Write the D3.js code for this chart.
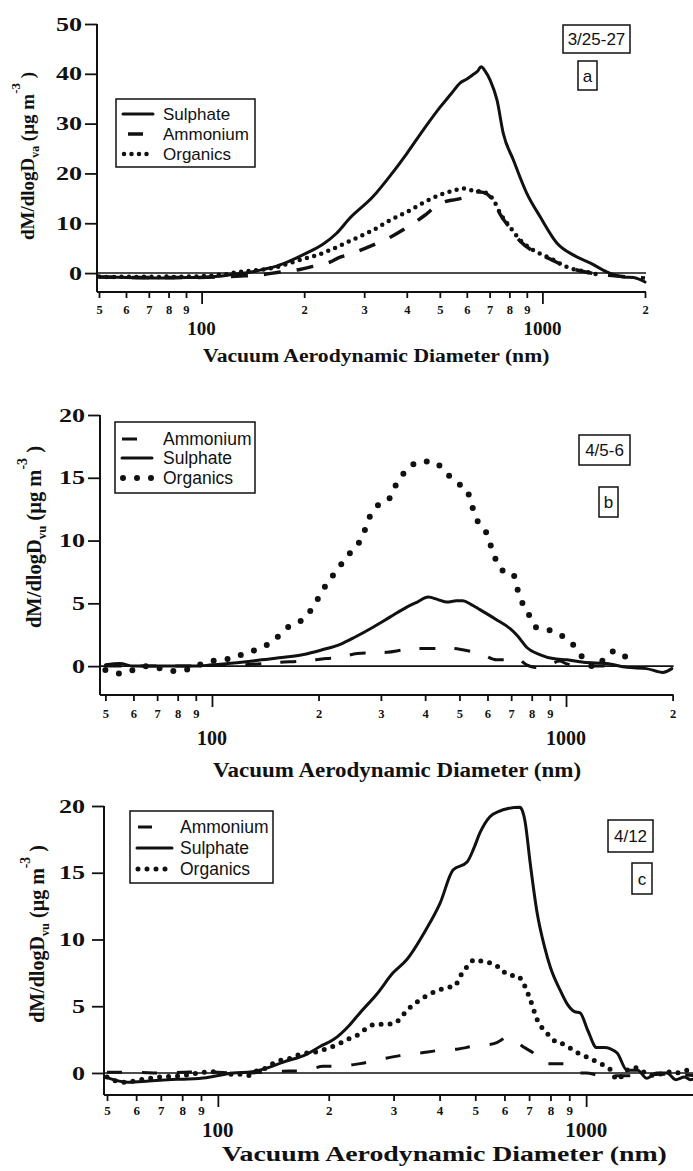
<!DOCTYPE html>
<html>
<head>
<meta charset="utf-8">
<script src="https://cdn.jsdelivr.net/npm/d3@7"></script>
<style>
  body { margin: 0; background: #fff; }
  svg { display: block; }
</style>
</head>
<body>
<svg id="fig" width="693" height="1171"></svg>
<script>
// ---- shared axis content ----
const xTickValues = [50, 60, 70, 80, 90, 100, 200, 300, 400, 500, 600, 700, 800, 900, 1000, 2000];
const xTickLabels = ["5", "6", "7", "8", "9", "", "2", "3", "4", "5", "6", "7", "8", "9", "", "2"];
const xMajorValues = [100, 1000];
const xTitle = "Vacuum Aerodynamic Diameter (nm)";
const yTicksA = [0, 10, 20, 30, 40, 50];
const yTicksBC = [0, 5, 10, 15, 20];

// ---- panel a: 3/25-27 (diameter nm, dM/dlogDva) ----
const aSulphateD = [50, 60, 70, 80, 90, 100, 110, 120, 130, 140, 151, 166, 181, 203, 227, 249, 272, 318, 360, 401, 450, 501, 540, 574, 602, 625, 645, 661, 680, 703, 736, 768, 822, 900, 985, 1104, 1234, 1384, 1550, 1733, 1850, 2000];
const aSulphateV = [-0.8, -0.9, -1.0, -1.0, -0.9, -0.9, -0.7, -0.4, -0.1, 0.2, 0.7, 1.4, 2.4, 4.0, 5.8, 8.0, 11.0, 15.3, 19.8, 24.1, 29.0, 33.3, 36.0, 38.2, 39.0, 39.8, 40.5, 41.4, 40.5, 38.7, 34.7, 28.0, 22.7, 16.0, 11.3, 6.0, 3.6, 2.0, 0.2, -0.8, -0.9, -1.8];
const aAmmoniumD = [50, 70, 90, 110, 130, 151, 170, 190, 208, 238, 255, 267, 318, 360, 401, 450, 501, 560, 602, 645, 670, 718, 752, 804, 861, 940, 1055, 1181, 1300, 1450, 1600, 1800, 2000];
const aAmmoniumV = [-0.8, -0.9, -0.9, -0.8, -0.6, -0.3, 0.2, 0.6, 1.2, 2.2, 3.2, 3.6, 5.6, 7.3, 9.2, 11.5, 14.0, 14.8, 15.3, 16.3, 16.2, 14.5, 11.8, 9.0, 6.4, 4.4, 2.8, 1.2, 0.4, -0.2, -0.5, -0.8, -1.0];
const aOrganicsD = [50, 55, 60, 65, 70, 75, 80, 85, 90, 95, 100, 105, 110, 116, 123, 136, 151, 166, 181, 198, 218, 238, 260, 290, 318, 355, 401, 450, 501, 545, 585, 620, 670, 718, 752, 804, 861, 940, 1055, 1181, 1353, 1450];
const aOrganicsV = [-0.7, -0.8, -0.7, -0.8, -0.7, -0.8, -0.7, -0.8, -0.7, -0.7, -0.6, -0.6, -0.4, -0.3, 0.0, 0.4, 0.7, 1.2, 2.0, 2.8, 3.6, 4.6, 5.8, 7.3, 8.6, 10.5, 12.3, 14.2, 15.7, 16.5, 17.0, 16.6, 16.3, 14.7, 12.0, 9.2, 6.6, 4.6, 3.0, 1.2, 0.2, -0.3];

// ---- panel b: 4/5-6 ----
const bAmmoniumD = [50, 60, 70, 80, 90, 100, 120, 140, 154, 180, 210, 230, 257, 312, 350, 387, 440, 480, 511, 582, 636, 690, 726, 774, 820, 880, 960, 1000, 1100, 1300];
const bAmmoniumV = [0.0, 0.0, 0.0, 0.0, 0.0, 0.05, 0.1, 0.2, 0.3, 0.4, 0.6, 0.7, 1.0, 1.1, 1.3, 1.4, 1.4, 1.4, 1.3, 0.9, 0.5, 0.5, 0.6, 0.1, -0.1, 0.0, 0.4, 0.2, 0.0, 0.0];
const bSulphateD = [50, 55, 60, 70, 80, 90, 100, 111, 125, 138, 160, 180, 205, 233, 253, 285, 318, 355, 380, 408, 435, 461, 490, 511, 540, 571, 636, 694, 730, 774, 846, 919, 1006, 1121, 1303, 1487, 1688, 1877, 1990];
const bSulphateV = [0.1, 0.2, 0.0, 0.0, 0.0, 0.0, 0.1, 0.2, 0.35, 0.5, 0.7, 0.9, 1.3, 1.8, 2.3, 3.1, 3.9, 4.7, 5.1, 5.5, 5.3, 5.1, 5.2, 5.2, 4.9, 4.5, 3.7, 3.0, 2.4, 1.5, 0.9, 0.6, 0.5, 0.3, 0.2, -0.1, -0.2, -0.5, -0.2];
const bOrganicsD = [50, 55, 60, 65.5, 72, 79, 87, 94, 104, 114, 125, 137, 150, 164, 180, 194, 205, 218, 233, 250, 267, 276, 292, 318, 333, 355, 387, 421, 458, 492, 525, 542, 557, 594, 613, 631, 663, 708, 726, 751, 785, 822, 889, 961, 1047, 1121, 1212, 1292, 1375, 1478];
const bOrganicsV = [-0.3, -0.6, -0.3, 0.0, -0.2, -0.4, -0.2, 0.2, 0.5, 0.6, 1.1, 1.4, 2.1, 3.1, 3.7, 4.8, 6.0, 7.1, 8.2, 9.3, 10.4, 11.6, 12.7, 13.4, 14.6, 15.6, 16.3, 16.3, 15.4, 14.6, 14.0, 12.8, 11.8, 10.7, 9.6, 8.6, 7.6, 7.4, 6.3, 5.1, 4.1, 3.1, 2.9, 2.5, 1.7, 0.6, -0.1, 0.7, 1.2, 0.7];

// ---- panel c: 4/12 ----
const cAmmoniumD = [50, 60, 70, 80, 90, 100, 110, 120, 140, 157, 167, 180, 193, 211, 243, 275, 312, 355, 401, 450, 494, 540, 574, 600, 613, 630, 649, 680, 718, 763, 820, 867, 952, 1000, 1100, 1300, 1600, 2000];
const cAmmoniumV = [0.05, 0.05, 0.0, 0.05, 0.1, 0.05, 0.0, 0.0, 0.1, 0.15, 0.15, 0.3, 0.5, 0.5, 0.7, 1.0, 1.3, 1.5, 1.7, 1.8, 2.0, 2.1, 2.3, 2.6, 2.7, 2.5, 2.3, 1.9, 1.5, 0.7, 0.7, 0.7, 0.0, 0.0, -0.2, -0.2, -0.1, -0.2];
const cSulphateD = [50, 57, 65, 73, 83, 93, 110, 124, 137, 150, 174, 190, 206, 228, 243, 270, 299, 326, 365, 401, 435, 475, 495, 515, 548, 580, 610, 661, 672, 682, 705, 736, 770, 800, 850, 887, 930, 963, 1010, 1068, 1120, 1165, 1214, 1292, 1380, 1462, 1550, 1659, 1750, 1850, 1918, 2000];
const cSulphateV = [-0.35, -0.7, -0.6, -0.5, -0.45, -0.35, 0.0, 0.1, 0.4, 0.8, 1.4, 2.0, 2.5, 3.6, 4.5, 5.9, 7.5, 8.5, 10.6, 12.7, 15.2, 15.8, 16.8, 18.0, 19.2, 19.6, 19.8, 19.9, 19.6, 18.9, 15.7, 12.0, 9.5, 7.9, 6.2, 5.2, 4.6, 4.5, 3.2, 1.9, 1.9, 1.8, 1.5, 0.2, 0.2, -0.4, 0.0, 0.0, -0.5, -0.3, -0.5, -0.4];
const cOrganicsD = [50, 55, 62, 70, 80, 89, 97, 106, 115, 122, 128, 136, 141, 150, 157, 167, 186, 201, 214, 224, 238, 264, 299, 332, 370, 419, 440, 454, 480, 499, 530, 559, 590, 621, 650, 673, 705, 736, 782, 833, 860, 901, 950, 1004, 1111, 1160, 1214, 1290, 1372, 1450, 1550, 1650, 1750, 1880, 2000];
const cOrganicsV = [-0.3, -0.7, -0.5, -0.3, -0.2, 0.0, 0.1, -0.1, -0.1, -0.2, 0.2, 0.4, 0.7, 1.0, 1.1, 1.4, 1.6, 1.9, 2.2, 2.5, 2.8, 3.6, 3.7, 4.9, 5.8, 6.4, 6.5, 7.2, 8.1, 8.5, 8.3, 8.2, 7.7, 7.3, 7.3, 6.8, 5.5, 4.0, 3.0, 2.3, 2.2, 1.9, 1.5, 1.2, 0.6, 0.3, -0.5, 0.2, 0.4, 0.0, -0.2, 0.1, 0.0, 0.2, 0.1];

const SERIF = "'Liberation Serif', 'Times New Roman', serif";
const SANS = "'Liberation Sans', Arial, sans-serif";

const svg = d3.select("#fig");

function zip(ds, vs) { return ds.map((d, i) => [d, vs[i]]); }

function lineStyle(sel, st) {
  sel.attr("fill", "none").attr("stroke", "#111")
    .attr("stroke-width", st.w)
    .attr("stroke-linecap", st.cap || "butt")
    .attr("stroke-linejoin", "round");
  if (st.dash) sel.attr("stroke-dasharray", st.dash);
  return sel;
}

function drawPanel(p) {
  const g = svg.append("g");
  const x = d3.scaleLog().domain([50, 2000]).range([p.x0, p.x1]);
  const y = d3.scaleLinear().domain([p.yMin, p.yMax]).range([p.yBottom, p.yTop]);

  // zero reference line
  g.append("line")
    .attr("x1", p.axisX).attr("x2", x(2000) + 1)
    .attr("y1", y(0)).attr("y2", y(0))
    .attr("stroke", "#111").attr("stroke-width", 1.6);

  // y axis
  const ya = g.append("g").attr("transform", `translate(${p.axisX},0)`)
    .call(d3.axisLeft(y).tickValues(p.yTicks).tickSize(12).tickSizeOuter(0).tickFormat(d3.format("d")));
  ya.select(".domain").attr("stroke", "#111").attr("stroke-width", 2)
    .attr("d", `M0,${y(p.yMax)}V${p.yBottom}`);
  ya.selectAll(".tick line").attr("stroke", "#111").attr("stroke-width", 1.8);
  ya.selectAll(".tick text")
    .attr("font-family", SERIF).attr("font-weight", "bold").attr("font-size", 18)
    .attr("fill", "#111").attr("text-anchor", "end")
    .attr("x", -p.yLabGap / 1.45).attr("dy", "0.34em")
    .attr("transform", "scale(1.45,1)");

  // x axis (ticks beyond the drawing width are left unlabeled)
  const visible = xTickValues.filter(v => x(v) <= p.maxLabelX);
  const xa = g.append("g").attr("transform", `translate(0,${p.yBottom})`)
    .call(d3.axisBottom(x).tickValues(visible).tickSizeOuter(0)
      .tickFormat((d, i) => xTickLabels[i]));
  xa.select(".domain").attr("stroke", "#111").attr("stroke-width", 2)
    .attr("d", `M${p.axisX},0H${x(2000) + 1}`);
  xa.selectAll(".tick line").attr("stroke", "#111").attr("stroke-width", 1.8)
    .attr("y2", d => xMajorValues.includes(d) ? 12 : 6);
  xa.selectAll(".tick text")
    .attr("font-family", SERIF).attr("font-weight", "bold").attr("font-size", p.minorFont)
    .attr("fill", "#111").attr("y", p.minorLabY).attr("dy", 0);

  // decade labels
  xMajorValues.forEach(v => {
    g.append("text").attr("x", x(v)).attr("y", p.majorLabY)
      .attr("text-anchor", "middle")
      .attr("font-family", SERIF).attr("font-weight", "bold").attr("font-size", p.majorFont)
      .attr("fill", "#111").text(String(v));
  });

  // x title
  g.append("text")
    .attr("transform", `translate(${p.xTitleX},${p.xTitleY}) scale(${p.xTitleScale},1)`)
    .attr("font-family", SERIF).attr("font-weight", "bold").attr("font-size", p.xTitleFont)
    .attr("fill", "#111").text(xTitle);

  // y title with subscript / superscript
  const yt = g.append("text")
    .attr("transform", `translate(${p.yTitleX},${p.yTitleY}) rotate(-90)`)
    .attr("text-anchor", "middle")
    .attr("font-family", SERIF).attr("font-weight", "bold").attr("font-size", p.yTitleFont)
    .attr("fill", "#111");
  yt.append("tspan").text("dM/dlogD");
  yt.append("tspan").attr("font-size", p.yTitleFont * 0.62).attr("dy", 5).text(p.subscript);
  yt.append("tspan").attr("dy", -5).text(" (\u00B5g m");
  yt.append("tspan").attr("font-size", p.yTitleFont * 0.68).attr("dy", -14).text("-3");
  yt.append("tspan").attr("dy", 14).text(" )");

  // data curves
  const line = d3.line().x(d => x(d[0])).y(d => y(d[1])).curve(d3.curveMonotoneX);
  p.series.forEach(s => {
    lineStyle(g.append("path").attr("d", line(zip(s.d, s.v))), s.style);
  });

  // legend
  const L = p.legend;
  g.append("rect").attr("x", L.x).attr("y", L.y).attr("width", L.w).attr("height", L.h)
    .attr("fill", "#fff").attr("stroke", "#111").attr("stroke-width", 1.5);
  L.order.forEach((name, i) => {
    const s = p.series.find(q => q.name === name);
    const cy = L.rowY[i];
    const sample = s.legendSample;
    lineStyle(g.append("line").attr("x1", sample[0]).attr("x2", sample[1])
      .attr("y1", cy).attr("y2", cy), s.style);
    g.append("text").attr("x", L.textX).attr("y", cy + 6)
      .attr("font-family", SANS).attr("font-size", L.font).attr("fill", "#111").text(name);
  });

  // date and panel tag boxes
  p.tags.forEach(t => {
    g.append("rect").attr("x", t.x).attr("y", t.y).attr("width", t.w).attr("height", t.h)
      .attr("fill", "#fff").attr("stroke", "#111").attr("stroke-width", 1.5);
    g.append("text").attr("x", t.x + t.w / 2).attr("y", t.y + t.h / 2 + 6)
      .attr("text-anchor", "middle")
      .attr("font-family", SANS).attr("font-size", 17).attr("fill", "#111").text(t.text);
  });
}

const solid = { w: 3, cap: "round" };

drawPanel({
  x0: 99, x1: 645, axisX: 97, maxLabelX: 680,
  yMin: -3.8, yMax: 50, yTop: 24, yBottom: 292, yTicks: yTicksA, yLabGap: 15,
  minorFont: 12.5, minorLabY: 22, majorFont: 19, majorLabY: 335,
  xTitleX: 203, xTitleY: 362, xTitleScale: 1.11, xTitleFont: 19.5,
  yTitleX: 34, yTitleY: 156, yTitleFont: 19, subscript: "va",
  series: [
    { name: "Sulphate", d: aSulphateD, v: aSulphateV, style: solid, legendSample: [123, 153] },
    { name: "Ammonium", d: aAmmoniumD, v: aAmmoniumV, style: { w: 3.5, dash: "17,16" }, legendSample: [128, 143] },
    { name: "Organics", d: aOrganicsD, v: aOrganicsV, style: { w: 4.5, cap: "round", dash: "0,7.5" }, legendSample: [124, 153] }
  ],
  legend: { x: 116, y: 99, w: 139, h: 68, textX: 163, font: 17,
            order: ["Sulphate", "Ammonium", "Organics"], rowY: [114, 134, 154] },
  tags: [
    { text: "3/25-27", x: 563, y: 25, w: 67, h: 28 },
    { text: "a", x: 578, y: 61, w: 19, h: 29 }
  ]
});

drawPanel({
  x0: 105.4, x1: 672.6, axisX: 100, maxLabelX: 680,
  yMin: -2.3, yMax: 20, yTop: 415, yBottom: 695, yTicks: yTicksBC, yLabGap: 15,
  minorFont: 12.5, minorLabY: 23, majorFont: 20, majorLabY: 745,
  xTitleX: 213, xTitleY: 777, xTitleScale: 1.15, xTitleFont: 20,
  yTitleX: 41, yTitleY: 537, yTitleFont: 20.5, subscript: "vu",
  series: [
    { name: "Ammonium", d: bAmmoniumD, v: bAmmoniumV, style: { w: 3, dash: "16,19" }, legendSample: [122, 137] },
    { name: "Sulphate", d: bSulphateD, v: bSulphateV, style: solid, legendSample: [122, 152] },
    { name: "Organics", d: bOrganicsD, v: bOrganicsV, style: { w: 6, cap: "round", dash: "0,14" }, legendSample: [123, 152] }
  ],
  legend: { x: 115, y: 422, w: 140, h: 71, textX: 163, font: 17.5,
            order: ["Ammonium", "Sulphate", "Organics"], rowY: [439, 458, 478] },
  tags: [
    { text: "4/5-6", x: 579, y: 435, w: 51, h: 30 },
    { text: "b", x: 599, y: 487, w: 19, h: 30 }
  ]
});

drawPanel({
  x0: 107, x1: 697, axisX: 104, maxLabelX: 680,
  yMin: -1.65, yMax: 20, yTop: 806, yBottom: 1095, yTicks: yTicksBC, yLabGap: 19,
  minorFont: 13, minorLabY: 20, majorFont: 21, majorLabY: 1137,
  xTitleX: 222, xTitleY: 1161, xTitleScale: 1.39, xTitleFont: 20,
  yTitleX: 44, yTitleY: 934, yTitleFont: 20, subscript: "vu",
  series: [
    { name: "Ammonium", d: cAmmoniumD, v: cAmmoniumV, style: { w: 3, dash: "15,20" }, legendSample: [138, 152] },
    { name: "Sulphate", d: cSulphateD, v: cSulphateV, style: solid, legendSample: [137, 172] },
    { name: "Organics", d: cOrganicsD, v: cOrganicsV, style: { w: 5, cap: "round", dash: "0,9" }, legendSample: [138, 166] }
  ],
  legend: { x: 130, y: 811, w: 143, h: 72, textX: 180, font: 17.5,
            order: ["Ammonium", "Sulphate", "Organics"], rowY: [827, 848, 869] },
  tags: [
    { text: "4/12", x: 608, y: 820, w: 45, h: 32 },
    { text: "c", x: 632, y: 863, w: 20, h: 31 }
  ]
});
</script>
</body>
</html>
